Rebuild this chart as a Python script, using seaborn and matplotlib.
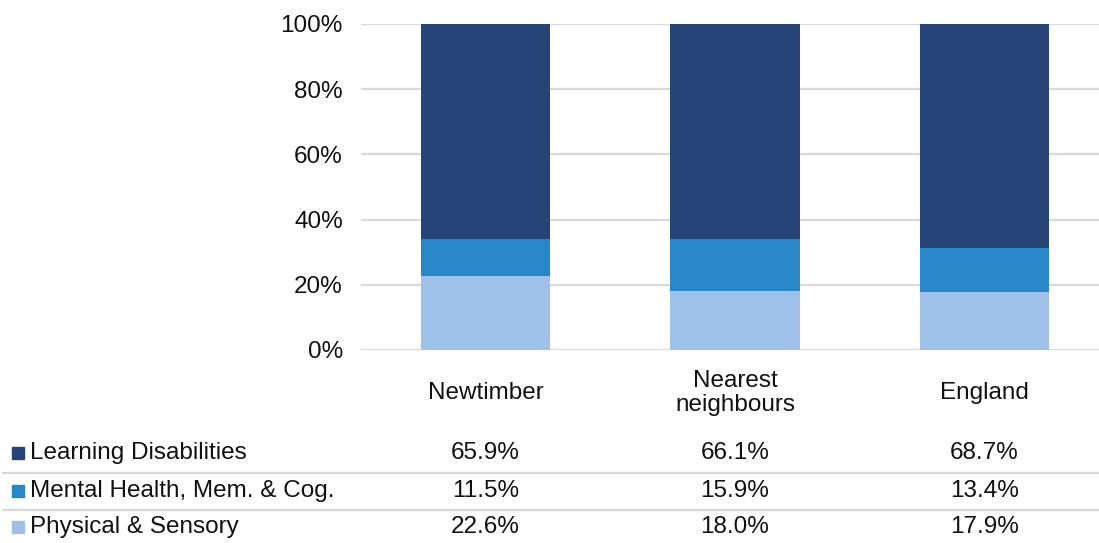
import matplotlib
matplotlib.use("Agg")
import matplotlib.pyplot as plt
import matplotlib.transforms as mtransforms
from matplotlib.patches import Rectangle
from matplotlib.lines import Line2D
import seaborn as sns
import numpy as np

areas = ["Newtimber", "Nearest\nneighbours", "England"]
series = ["Learning Disabilities", "Mental Health, Mem. & Cog.", "Physical & Sensory"]
learning = [65.9, 66.1, 68.7]
mental = [11.5, 15.9, 13.4]
physical = [22.6, 18.0, 17.9]
colours = ["#264478", "#2787C9", "#9FC0E8"]

sns.set_theme(style="white")
plt.rcParams["font.family"] = ["Liberation Sans", "DejaVu Sans"]
fs = 17.5

W, H = 1099, 543
fig = plt.figure(figsize=(W / 100, H / 100), dpi=100)
# axes spans from x=361 to the right edge, y from 24 (100%) to 350 (0%)
ax = fig.add_axes([361 / W, 1 - 350 / H, (W - 361) / W, (350 - 24) / H])

# stacked bars, bottom series first
bottom = np.zeros(3)
for vals, col in zip([physical, mental, learning], colours[::-1]):
    sns.barplot(x=areas, y=vals, bottom=bottom, color=col, width=0.52,
                saturation=1, ax=ax, zorder=3, linewidth=0)
    bottom = bottom + np.array(vals)

ax.set_xlim(-0.5, 2.5 - 10 / 249.5)
ax.set_ylim(0, 100)
ax.set_yticks(np.arange(0, 101, 20))
ax.set_yticklabels([f"{t}%" for t in range(0, 101, 20)], fontsize=fs, color="#111111")
ax.yaxis.grid(True, color="#D9D9D9", linewidth=1.6, zorder=0)
ax.tick_params(axis="y", length=0, pad=13)
ax.set_xticks([])
ax.set_xlabel("")
ax.set_ylabel("")
for s in ax.spines.values():
    s.set_visible(False)

# category labels and data table underneath
trans = mtransforms.blended_transform_factory(ax.transData, fig.transFigure)
for i, name in enumerate(areas):
    fig.text(i, 1 - 393 / H, name, transform=trans, fontsize=fs, ha="center",
             va="center", color="#111111", linespacing=1.08)

row_y = [453, 491, 527]
table = [learning, mental, physical]
for name, vals, col, y in zip(series, table, colours, row_y):
    yf = 1 - y / H
    fig.patches.append(Rectangle((12 / W, 1 - (y + 6) / H), 12 / W, 12 / H,
                                 transform=fig.transFigure, color=col))
    fig.text(30 / W, yf, name, fontsize=fs, va="center", ha="left", color="#111111")
    for i, v in enumerate(vals):
        fig.text(i, yf, f"{v:.1f}%", transform=trans, fontsize=fs,
                 va="center", ha="center", color="#111111")

for y in [473, 510]:
    fig.add_artist(Line2D([3 / W, 1], [1 - y / H, 1 - y / H], transform=fig.transFigure,
                          color="#D9D9D9", linewidth=1.6))

fig.savefig("out.png", dpi=100)
